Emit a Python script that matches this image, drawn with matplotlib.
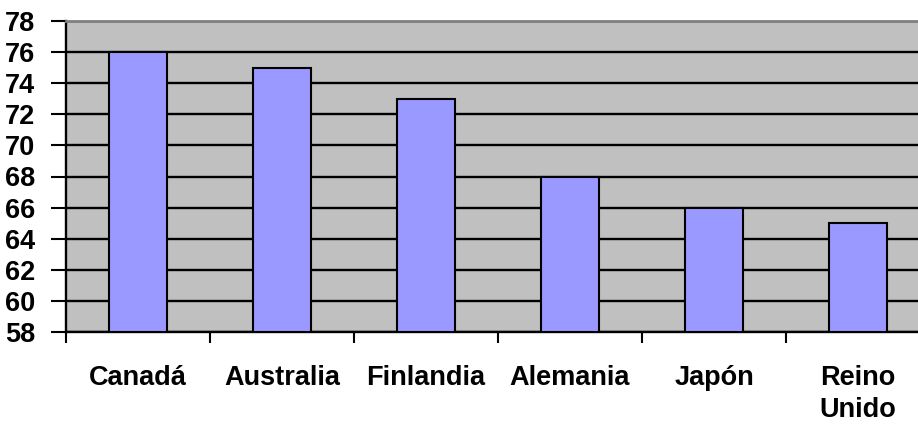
import matplotlib
matplotlib.use('Agg')
import matplotlib.pyplot as plt
import numpy as np

countries = ['Canadá', 'Australia', 'Finlandia', 'Alemania', 'Japón', 'Reino\nUnido']
values = [76, 75, 73, 68, 66, 65]
yticks = list(range(58, 79, 2))

plt.rcParams['font.family'] = ['Liberation Sans', 'DejaVu Sans']
plt.rcParams['font.weight'] = 'bold'

fig = plt.figure(figsize=(9.18, 4.24), dpi=100)
ax = fig.add_axes([66 / 918, 92 / 424, 864 / 918, 311 / 424])
ax.set_facecolor('#C0C0C0')

x = np.arange(len(countries))
ax.bar(x, [v - 58 for v in values], bottom=58, width=0.40,
       color='#9999FF', edgecolor='black', linewidth=1.5, zorder=3)

ax.set_xlim(-0.5, len(countries) - 0.5)
ax.set_ylim(58, 78)
ax.set_yticks(yticks)
ax.set_yticklabels([str(t) for t in yticks], fontsize=19.5, fontweight='bold')
ax.yaxis.grid(True, color='black', linewidth=1.7, zorder=1)
ax.set_axisbelow(True)

# category boundaries as major ticks, names on minor ticks at centers
ax.set_xticks(np.arange(-0.5, len(countries)))
ax.set_xticklabels([])
ax.set_xticks(x, minor=True)
ax.set_xticklabels(countries, minor=True, fontsize=19.5, fontweight='bold', linespacing=1.3)
ax.tick_params(axis='x', which='minor', length=0, pad=24)
ax.tick_params(axis='x', which='major', length=8, width=1.5, direction='out')
ax.tick_params(axis='y', length=11, width=1.5, pad=11)

for s in ['left', 'bottom']:
    ax.spines[s].set_linewidth(1.7)
    ax.spines[s].set_color('black')
ax.spines['top'].set_color('#808080')
ax.spines['top'].set_linewidth(2)
ax.spines['right'].set_visible(False)

fig.savefig('out.png', dpi=100)
